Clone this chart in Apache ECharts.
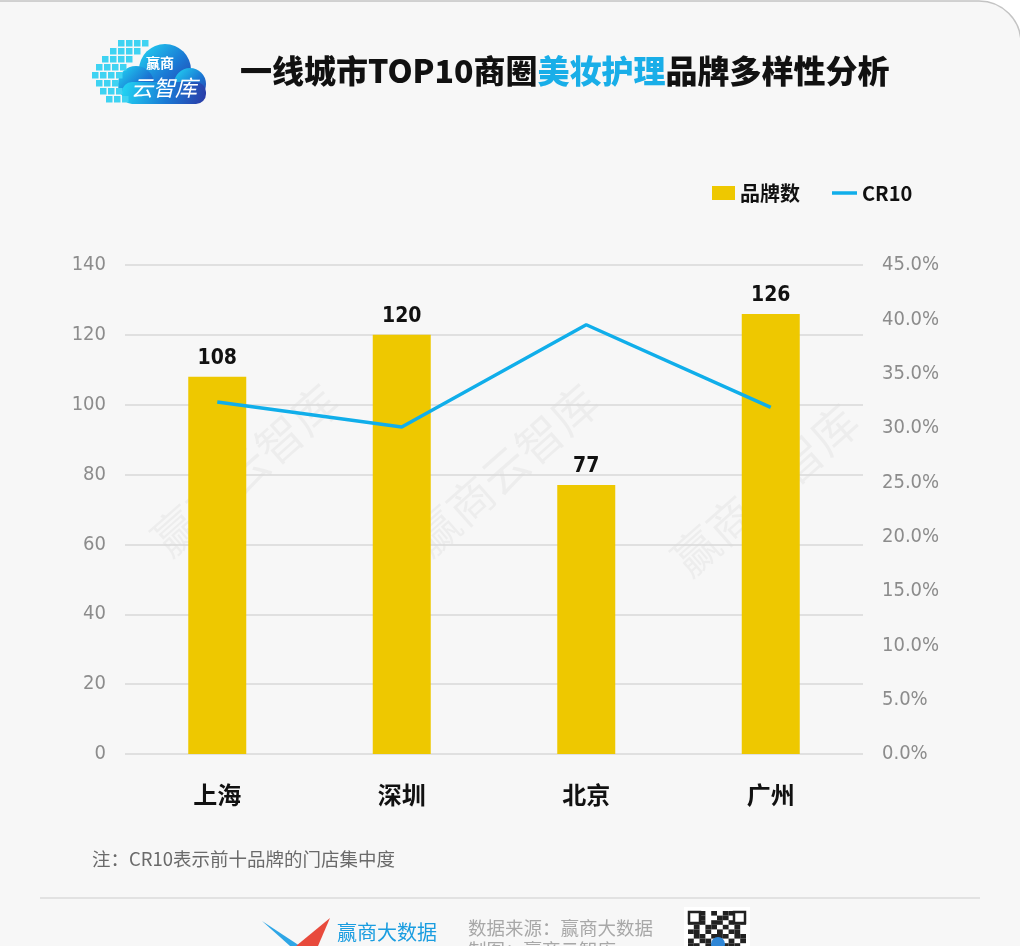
<!DOCTYPE html>
<html><head><meta charset="utf-8">
<script src="https://cdn.jsdelivr.net/npm/echarts@6/dist/echarts.min.js"></script>
<style>html,body{margin:0;padding:0;background:#fff;}#c{width:1020px;height:946px;}</style>
</head><body><div id="c"></div>
<script>
const categories = ['上海', '深圳', '北京', '广州'];
const brandCounts = [108, 120, 77, 126];
const cr10 = [0.324, 0.301, 0.395, 0.319];
const leftTicks = {min: 0, max: 140, interval: 20};
const rightTicks = {min: 0, max: 0.45, interval: 0.05};

const narrow = '"Liberation Sans Narrow","DejaVu Sans Condensed","Roboto Condensed","Noto Sans",sans-serif';
const cjk = '"Noto Sans CJK SC","Noto Sans",sans-serif';

const chart = echarts.init(document.getElementById('c'), null, {renderer: 'canvas'});

const cloudGrad = new echarts.graphic.LinearGradient(0,0,1,1,[{offset:0,color:'#22d8f4'},{offset:0.55,color:'#1a78d4'},{offset:1,color:'#2b3aa6'}]);

// decorative pixel squares of the logo
const sqRows = [[40,[118,126,134,142]],[48,[110,118,126,134]],[56,[102,110,118,126]],[64,[96,104,112,120]],[72,[92,100,108,116]],[80,[96,104,112]],[88,[100,108,116]],[96,[106,114,122]]];
const sq = [];
sqRows.forEach(r => r[1].forEach(x => sq.push({type:'rect', shape:{x:x, y:r[0], width:6.5, height:6.5}, style:{fill:'#3fd3f2'}})));

// decorative qr pattern
const qrRows = ['1110101101','1010011001','1110110111','0101101010','1101010110','0110111011','1011000101','1101101110'];
const qr = [];
qrRows.forEach((row, j) => row.split('').forEach((b, i) => { if (b === '1') qr.push({type:'rect', shape:{x:688 + i*5.8, y:911 + j*4.6, width:5.8, height:4.6}, style:{fill:'#222'}}); }));

const wm = (x, y) => ({type:'text', z:-5, x:x, y:y, rotation:Math.PI*0.23,
  style:{text:'赢商云智库', font:'46px ' + cjk, fill:'rgba(0,0,0,0.04)', textAlign:'center', textVerticalAlign:'middle'}});

const option = {
  backgroundColor: 'transparent',
  textStyle: {fontFamily: cjk},
  graphic: [
    {type:'rect', z:-10, shape:{x:-5, y:1, width:1026, height:1000, r:[0,42,0,0]}, style:{fill:'#f7f7f7', stroke:'#c4c4c4', lineWidth:1.5}},
    wm(245, 470), wm(505, 470), wm(765, 490),
    {type:'group', children: [
      {type:'circle', shape:{cx:165, cy:70, r:26}, style:{fill:cloudGrad}},
      {type:'circle', shape:{cx:136, cy:84, r:18}, style:{fill:cloudGrad}},
      {type:'circle', shape:{cx:190, cy:84, r:16}, style:{fill:cloudGrad}},
      {type:'rect', shape:{x:122, y:82, width:84, height:22, r:10}, style:{fill:cloudGrad}},
      ...sq,
      {type:'text', x:160, y:63, style:{text:'赢商', font:'bold 14px ' + cjk, fill:'#fff', textAlign:'center', textVerticalAlign:'middle'}},
      {type:'text', x:164, y:88, style:{text:'云智库', font:'italic 22px ' + cjk, fill:'#fff', textAlign:'center', textVerticalAlign:'middle'}}
    ]},
    {type:'text', left:240, top:55, style:{text:'{a|一线城市TOP10商圈}{b|美妆护理}{a|品牌多样性分析}',
      rich:{a:{font:'900 32px ' + cjk, fill:'#111'}, b:{font:'900 32px ' + cjk, fill:'#19aee8'}}}},
    {type:'text', left:92, top:850, style:{text:'注：CR10表示前十品牌的门店集中度', font:'18.5px ' + cjk, fill:'#6a6a6a'}},
    {type:'line', shape:{x1:40, y1:898, x2:980, y2:898}, style:{stroke:'#e2e2e2', lineWidth:2}},
    {type:'polygon', shape:{points:[[262,921],[300,946],[290,946]]}, style:{fill:'#2ea6e6'}},
    {type:'polygon', shape:{points:[[296,946],[330,918],[318,946]]}, style:{fill:'#e84a3c'}},
    {type:'text', left:337, top:922, style:{text:'赢商大数据', font:'20px ' + cjk, fill:'#1a9de0'}},
    {type:'text', left:468, top:919, style:{text:'数据来源：赢商大数据', font:'18.5px ' + cjk, fill:'#a8a8a8'}},
    {type:'text', left:468, top:941, style:{text:'制图：赢商云智库', font:'18.5px ' + cjk, fill:'#a8a8a8'}},
    {type:'rect', shape:{x:684, y:907, width:66, height:40}, style:{fill:'#fff'}},
    ...qr,
    {type:'rect', shape:{x:689, y:912, width:11, height:11}, style:{fill:'#fff', stroke:'#222', lineWidth:2.5}},
    {type:'rect', shape:{x:734, y:912, width:11, height:11}, style:{fill:'#fff', stroke:'#222', lineWidth:2.5}},
    {type:'circle', shape:{cx:718, cy:944, r:7}, style:{fill:'#2e86d6'}}
  ],
  legend: [
    {left: 712, top: 183, padding: 0, itemWidth: 23, itemHeight: 14, itemGap: 5,
      textStyle: {fontFamily: cjk, fontSize: 20, fontWeight: 'bold', color: '#111'},
      data: [{name:'品牌数', icon:'rect'}]},
    {left: 832, top: 183, padding: 0, itemWidth: 25, itemHeight: 3.5, itemGap: 5,
      textStyle: {fontFamily: cjk, fontSize: 20, fontWeight: 'bold', color: '#111'},
      data: [{name:'CR10', icon:'rect'}]}
  ],
  grid: {left:125, right:157, top:265, bottom:192, containLabel:false},
  xAxis: {
    type: 'category', data: categories,
    axisLine: {show:false}, axisTick: {show:false},
    axisLabel: {margin: 29, fontSize: 24, fontWeight: 'bold', color: '#111', fontFamily: cjk}
  },
  yAxis: [
    {type:'value', min:leftTicks.min, max:leftTicks.max, interval:leftTicks.interval,
      axisLine:{show:false}, axisTick:{show:false},
      axisLabel:{margin:19, fontSize:20, color:'#8c8c8c', fontFamily:narrow},
      splitLine:{lineStyle:{color:'#d9d9d9', width:1.5}}},
    {type:'value', min:rightTicks.min, max:rightTicks.max, interval:rightTicks.interval,
      axisLine:{show:false}, axisTick:{show:false}, splitLine:{show:false},
      axisLabel:{margin:19, fontSize:20, color:'#8c8c8c', fontFamily:narrow,
        formatter: v => (v*100).toFixed(1) + '%'}}
  ],
  series: [
    {name:'品牌数', type:'bar', data:brandCounts, barWidth:58, yAxisIndex:0,
      itemStyle:{color:'#eec800'},
      label:{show:true, position:'top', distance:8, fontSize:21, fontWeight:'bold', color:'#111', fontFamily:narrow}},
    {name:'CR10', type:'line', data:cr10, yAxisIndex:1, showSymbol:false, symbol:'none',
      lineStyle:{color:'#10aeea', width:3.5}, itemStyle:{color:'#10aeea'}}
  ]
};
chart.setOption(option);
</script>
</body></html>
